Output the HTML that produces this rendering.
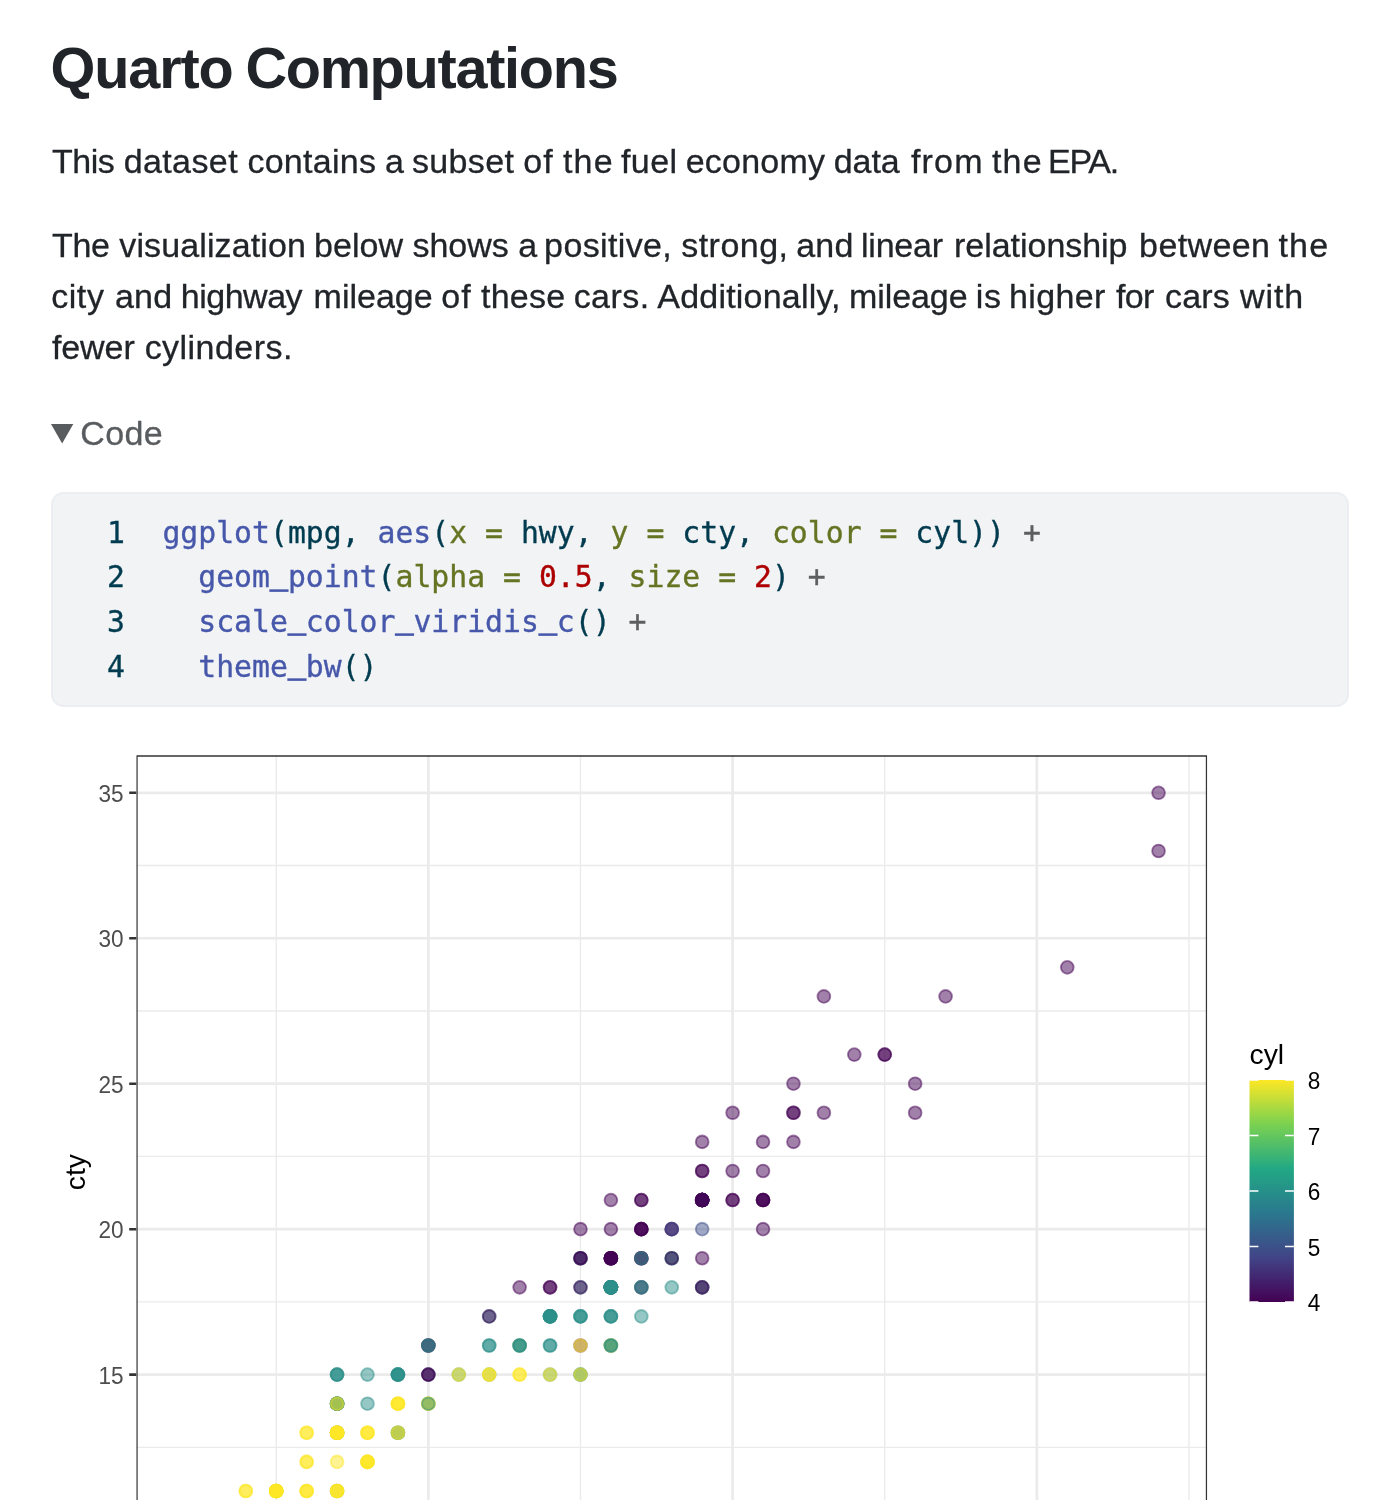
<!DOCTYPE html>
<html lang="en"><head><meta charset="utf-8"><title>Quarto Computations</title>
<style>
html,body{margin:0;padding:0;background:#fff;}
body{width:1400px;height:1500px;position:relative;overflow:hidden;font-family:"Liberation Sans",Arial,sans-serif;color:#212529;}
h1,p,.sum{margin:0;padding:0;position:absolute;white-space:pre;font-weight:400;-webkit-text-stroke:0.3px currentColor;}
h1{font-weight:700;-webkit-text-stroke:0;}
p.wl{left:0;width:1400px;height:51px;font-size:34px;line-height:51px;}
p.wl span,h1 span{position:absolute;top:0;white-space:pre;}
svg.tri{position:absolute;left:51.1px;top:424.1px;}
.src{position:absolute;left:51px;top:492px;width:1298px;height:215px;box-sizing:border-box;background:#f1f3f5;border:2px solid #eceef1;border-radius:12.5px;}
.src span.ln,.src span.cl{position:absolute;font-family:"DejaVu Sans Mono","Liberation Mono",monospace;font-size:29.75px;line-height:35px;white-space:pre;color:#003B4F;letter-spacing:0.015px;-webkit-text-stroke:0.35px currentColor;}
.src span.ln{left:54px;}
.src span.cl{left:109.4px;}
.us{position:relative;top:-3.7px;-webkit-text-stroke:1.3px currentColor;}
.fu{color:#4758AB;} .at{color:#657422;} .fl{color:#AD0000;} .sc{color:#5E5E5E;}
svg.fig{position:absolute;left:0;top:740px;}
</style></head>
<body>
<h1 style="left:0;width:1400px;height:69px;top:33.52px;font-size:57.65px;line-height:69px;letter-spacing:0px;"><span style="left:50.5px;letter-spacing:-1.15px">Quarto</span> <span style="left:245.4px;letter-spacing:-1.286px">Computations</span></h1>
<p class="wl" style="top:135.72px"><span style="left:51.97px;letter-spacing:-0.447px">This</span> <span style="left:123.67px;letter-spacing:0.398px">dataset</span> <span style="left:247.4px;letter-spacing:0.283px">contains</span> <span style="left:384.89px;letter-spacing:0.248px">a</span> <span style="left:411.97px;letter-spacing:0.336px">subset</span> <span style="left:523.15px;letter-spacing:1.2px">of</span> <span style="left:562.92px;letter-spacing:1.2px">the</span> <span style="left:620.95px;letter-spacing:0.449px">fuel</span> <span style="left:685.64px;letter-spacing:0.252px">economy</span> <span style="left:833.67px;letter-spacing:-0.025px">data</span> <span style="left:910.95px;letter-spacing:1.2px">from</span> <span style="left:991.92px;letter-spacing:1.2px">the</span> <span style="left:1047.95px;letter-spacing:-1.201px">EPA.</span></p>
<p class="wl" style="top:219.82px"><span style="left:51.97px;letter-spacing:-0.271px">The</span> <span style="left:119.33px;letter-spacing:0.11px">visualization</span> <span style="left:314.11px;letter-spacing:0.009px">below</span> <span style="left:412.47px;letter-spacing:-0.021px">shows</span> <span style="left:518.14px;letter-spacing:0.248px">a</span> <span style="left:544.12px;letter-spacing:0.362px">positive,</span> <span style="left:681.22px;letter-spacing:0.479px">strong,</span> <span style="left:796.14px;letter-spacing:0.24px">and</span> <span style="left:861.07px;letter-spacing:-0.254px">linear</span> <span style="left:954.08px;letter-spacing:-0.04px">relationship</span> <span style="left:1139.11px;letter-spacing:0.373px">between</span> <span style="left:1278.42px;letter-spacing:1.2px">the</span></p>
<p class="wl" style="top:271.32px"><span style="left:51.15px;letter-spacing:0.584px">city</span> <span style="left:114.89px;letter-spacing:0.24px">and</span> <span style="left:180.78px;letter-spacing:-0.493px">highway</span> <span style="left:313.57px;letter-spacing:-0.006px">mileage</span> <span style="left:441.15px;letter-spacing:1.2px">of</span> <span style="left:480.92px;letter-spacing:0.278px">these</span> <span style="left:573.65px;letter-spacing:0.462px">cars.</span> <span style="left:657.34px;letter-spacing:0.202px">Additionally,</span> <span style="left:849.07px;letter-spacing:-0.09px">mileage</span> <span style="left:975.83px;letter-spacing:0.722px">is</span> <span style="left:1009.03px;letter-spacing:0.358px">higher</span> <span style="left:1115.95px;letter-spacing:-0.689px">for</span> <span style="left:1164.9px;letter-spacing:0.244px">cars</span> <span style="left:1240.05px;letter-spacing:0.917px">with</span></p>
<p class="wl" style="top:322.32px"><span style="left:51.9px;letter-spacing:-0.074px">fewer</span> <span style="left:144.65px;letter-spacing:0.467px">cylinders.</span></p>
<svg class="tri" width="30" height="30" viewBox="0 0 30 30"><polygon points="0,0 22.3,0 11.15,19.4" fill="#595c5f"/></svg>
<div class="sum" style="left:80.37px;top:412.72px;font-size:34px;line-height:41px;letter-spacing:0.34px;color:#595c5f;">Code</div>
<div class="src">
<span class="ln" style="top:20.7px">1</span><span class="cl" style="top:20.7px"><span class="fu">ggplot</span>(mpg, <span class="fu">aes</span>(<span class="at">x =</span> hwy, <span class="at">y =</span> cty, <span class="at">color =</span> cyl)) <span class="sc">+</span></span>
<span class="ln" style="top:65.32px">2</span><span class="cl" style="top:65.32px">  <span class="fu">geom<span class="us">_</span>point</span>(<span class="at">alpha =</span> <span class="fl">0.5</span>, <span class="at">size =</span> <span class="fl">2</span>) <span class="sc">+</span></span>
<span class="ln" style="top:109.95px">3</span><span class="cl" style="top:109.95px">  <span class="fu">scale<span class="us">_</span>color<span class="us">_</span>viridis<span class="us">_</span>c</span>() <span class="sc">+</span></span>
<span class="ln" style="top:154.57px">4</span><span class="cl" style="top:154.57px">  <span class="fu">theme<span class="us">_</span>bw</span>()</span>
</div>
<svg class="fig" width="1400" height="760" viewBox="0 740 1400 760">
<defs><clipPath id="pc"><rect x="136.27" y="754.98" width="1070.96" height="831.97"/></clipPath>
<linearGradient id="vg" x1="0" y1="0" x2="0" y2="1"><stop offset="0%" stop-color="#FDE725"/><stop offset="20%" stop-color="#7AD151"/><stop offset="40%" stop-color="#22A884"/><stop offset="60%" stop-color="#2A788E"/><stop offset="80%" stop-color="#414487"/><stop offset="100%" stop-color="#440154"/></linearGradient></defs>
<rect x="136.27" y="754.98" width="1070.96" height="831.97" fill="#fff"/>
<g clip-path="url(#pc)">
<path d="M136.27 1447.32H1207.23M136.27 1301.88H1207.23M136.27 1156.42H1207.23M136.27 1010.97H1207.23M136.27 865.52H1207.23M276.23 754.98V1586.96M580.48 754.98V1586.96M884.73 754.98V1586.96M1188.97 754.98V1586.96" stroke="#EBEBEB" stroke-width="1.37" fill="none"/>
<path d="M136.27 1520.05H1207.23M136.27 1374.6H1207.23M136.27 1229.15H1207.23M136.27 1083.7H1207.23M136.27 938.25H1207.23M136.27 792.8H1207.23M428.35 754.98V1586.96M732.6 754.98V1586.96M1036.85 754.98V1586.96" stroke="#EBEBEB" stroke-width="2.74" fill="none"/>
<g fill-opacity="0.5" stroke-opacity="0.5" stroke-width="1.82">
<circle cx="702.17" cy="1287.33" r="6.4" fill="#440154" stroke="#440154"/>
<circle cx="702.17" cy="1200.06" r="6.4" fill="#440154" stroke="#440154"/>
<circle cx="763.03" cy="1229.15" r="6.4" fill="#440154" stroke="#440154"/>
<circle cx="732.6" cy="1200.06" r="6.4" fill="#440154" stroke="#440154"/>
<circle cx="610.9" cy="1345.51" r="6.4" fill="#2B9089" stroke="#2B9089"/>
<circle cx="610.9" cy="1287.33" r="6.4" fill="#2B9089" stroke="#2B9089"/>
<circle cx="641.33" cy="1287.33" r="6.4" fill="#2B9089" stroke="#2B9089"/>
<circle cx="610.9" cy="1287.33" r="6.4" fill="#440154" stroke="#440154"/>
<circle cx="580.48" cy="1345.51" r="6.4" fill="#440154" stroke="#440154"/>
<circle cx="671.75" cy="1229.15" r="6.4" fill="#440154" stroke="#440154"/>
<circle cx="641.33" cy="1258.24" r="6.4" fill="#440154" stroke="#440154"/>
<circle cx="580.48" cy="1374.6" r="6.4" fill="#2B9089" stroke="#2B9089"/>
<circle cx="580.48" cy="1316.42" r="6.4" fill="#2B9089" stroke="#2B9089"/>
<circle cx="580.48" cy="1316.42" r="6.4" fill="#2B9089" stroke="#2B9089"/>
<circle cx="580.48" cy="1374.6" r="6.4" fill="#2B9089" stroke="#2B9089"/>
<circle cx="550.05" cy="1374.6" r="6.4" fill="#2B9089" stroke="#2B9089"/>
<circle cx="580.48" cy="1316.42" r="6.4" fill="#2B9089" stroke="#2B9089"/>
<circle cx="519.62" cy="1345.51" r="6.4" fill="#FDE725" stroke="#FDE725"/>
<circle cx="428.35" cy="1403.69" r="6.4" fill="#FDE725" stroke="#FDE725"/>
<circle cx="276.23" cy="1490.96" r="6.4" fill="#FDE725" stroke="#FDE725"/>
<circle cx="428.35" cy="1403.69" r="6.4" fill="#FDE725" stroke="#FDE725"/>
<circle cx="337.08" cy="1432.78" r="6.4" fill="#FDE725" stroke="#FDE725"/>
<circle cx="337.08" cy="1461.87" r="6.4" fill="#FDE725" stroke="#FDE725"/>
<circle cx="610.9" cy="1345.51" r="6.4" fill="#FDE725" stroke="#FDE725"/>
<circle cx="519.62" cy="1374.6" r="6.4" fill="#FDE725" stroke="#FDE725"/>
<circle cx="610.9" cy="1345.51" r="6.4" fill="#FDE725" stroke="#FDE725"/>
<circle cx="580.48" cy="1374.6" r="6.4" fill="#FDE725" stroke="#FDE725"/>
<circle cx="550.05" cy="1374.6" r="6.4" fill="#FDE725" stroke="#FDE725"/>
<circle cx="397.93" cy="1403.69" r="6.4" fill="#FDE725" stroke="#FDE725"/>
<circle cx="245.8" cy="1490.96" r="6.4" fill="#FDE725" stroke="#FDE725"/>
<circle cx="276.23" cy="1490.96" r="6.4" fill="#FDE725" stroke="#FDE725"/>
<circle cx="337.08" cy="1403.69" r="6.4" fill="#FDE725" stroke="#FDE725"/>
<circle cx="641.33" cy="1258.24" r="6.4" fill="#440154" stroke="#440154"/>
<circle cx="732.6" cy="1170.97" r="6.4" fill="#440154" stroke="#440154"/>
<circle cx="610.9" cy="1287.33" r="6.4" fill="#2B9089" stroke="#2B9089"/>
<circle cx="702.17" cy="1287.33" r="6.4" fill="#2B9089" stroke="#2B9089"/>
<circle cx="610.9" cy="1316.42" r="6.4" fill="#2B9089" stroke="#2B9089"/>
<circle cx="550.05" cy="1287.33" r="6.4" fill="#440154" stroke="#440154"/>
<circle cx="550.05" cy="1316.42" r="6.4" fill="#2B9089" stroke="#2B9089"/>
<circle cx="489.2" cy="1345.51" r="6.4" fill="#2B9089" stroke="#2B9089"/>
<circle cx="489.2" cy="1345.51" r="6.4" fill="#2B9089" stroke="#2B9089"/>
<circle cx="550.05" cy="1316.42" r="6.4" fill="#2B9089" stroke="#2B9089"/>
<circle cx="550.05" cy="1316.42" r="6.4" fill="#2B9089" stroke="#2B9089"/>
<circle cx="337.08" cy="1490.96" r="6.4" fill="#2B9089" stroke="#2B9089"/>
<circle cx="489.2" cy="1374.6" r="6.4" fill="#2B9089" stroke="#2B9089"/>
<circle cx="458.78" cy="1374.6" r="6.4" fill="#2B9089" stroke="#2B9089"/>
<circle cx="519.62" cy="1345.51" r="6.4" fill="#2B9089" stroke="#2B9089"/>
<circle cx="519.62" cy="1345.51" r="6.4" fill="#2B9089" stroke="#2B9089"/>
<circle cx="397.93" cy="1374.6" r="6.4" fill="#2B9089" stroke="#2B9089"/>
<circle cx="367.5" cy="1403.69" r="6.4" fill="#2B9089" stroke="#2B9089"/>
<circle cx="337.08" cy="1432.78" r="6.4" fill="#2B9089" stroke="#2B9089"/>
<circle cx="337.08" cy="1403.69" r="6.4" fill="#2B9089" stroke="#2B9089"/>
<circle cx="397.93" cy="1403.69" r="6.4" fill="#FDE725" stroke="#FDE725"/>
<circle cx="397.93" cy="1403.69" r="6.4" fill="#FDE725" stroke="#FDE725"/>
<circle cx="184.95" cy="1549.14" r="6.4" fill="#FDE725" stroke="#FDE725"/>
<circle cx="337.08" cy="1490.96" r="6.4" fill="#FDE725" stroke="#FDE725"/>
<circle cx="276.23" cy="1490.96" r="6.4" fill="#FDE725" stroke="#FDE725"/>
<circle cx="337.08" cy="1432.78" r="6.4" fill="#2B9089" stroke="#2B9089"/>
<circle cx="337.08" cy="1432.78" r="6.4" fill="#FDE725" stroke="#FDE725"/>
<circle cx="184.95" cy="1549.14" r="6.4" fill="#FDE725" stroke="#FDE725"/>
<circle cx="337.08" cy="1432.78" r="6.4" fill="#FDE725" stroke="#FDE725"/>
<circle cx="306.65" cy="1490.96" r="6.4" fill="#FDE725" stroke="#FDE725"/>
<circle cx="367.5" cy="1432.78" r="6.4" fill="#FDE725" stroke="#FDE725"/>
<circle cx="276.23" cy="1490.96" r="6.4" fill="#FDE725" stroke="#FDE725"/>
<circle cx="306.65" cy="1461.87" r="6.4" fill="#FDE725" stroke="#FDE725"/>
<circle cx="184.95" cy="1549.14" r="6.4" fill="#FDE725" stroke="#FDE725"/>
<circle cx="337.08" cy="1432.78" r="6.4" fill="#FDE725" stroke="#FDE725"/>
<circle cx="337.08" cy="1432.78" r="6.4" fill="#FDE725" stroke="#FDE725"/>
<circle cx="306.65" cy="1461.87" r="6.4" fill="#FDE725" stroke="#FDE725"/>
<circle cx="184.95" cy="1549.14" r="6.4" fill="#FDE725" stroke="#FDE725"/>
<circle cx="276.23" cy="1490.96" r="6.4" fill="#FDE725" stroke="#FDE725"/>
<circle cx="306.65" cy="1490.96" r="6.4" fill="#FDE725" stroke="#FDE725"/>
<circle cx="337.08" cy="1432.78" r="6.4" fill="#FDE725" stroke="#FDE725"/>
<circle cx="276.23" cy="1490.96" r="6.4" fill="#FDE725" stroke="#FDE725"/>
<circle cx="337.08" cy="1490.96" r="6.4" fill="#FDE725" stroke="#FDE725"/>
<circle cx="337.08" cy="1490.96" r="6.4" fill="#FDE725" stroke="#FDE725"/>
<circle cx="367.5" cy="1461.87" r="6.4" fill="#FDE725" stroke="#FDE725"/>
<circle cx="337.08" cy="1403.69" r="6.4" fill="#2B9089" stroke="#2B9089"/>
<circle cx="397.93" cy="1374.6" r="6.4" fill="#2B9089" stroke="#2B9089"/>
<circle cx="337.08" cy="1403.69" r="6.4" fill="#2B9089" stroke="#2B9089"/>
<circle cx="397.93" cy="1432.78" r="6.4" fill="#2B9089" stroke="#2B9089"/>
<circle cx="397.93" cy="1432.78" r="6.4" fill="#FDE725" stroke="#FDE725"/>
<circle cx="337.08" cy="1432.78" r="6.4" fill="#FDE725" stroke="#FDE725"/>
<circle cx="337.08" cy="1403.69" r="6.4" fill="#2B9089" stroke="#2B9089"/>
<circle cx="337.08" cy="1403.69" r="6.4" fill="#2B9089" stroke="#2B9089"/>
<circle cx="306.65" cy="1432.78" r="6.4" fill="#FDE725" stroke="#FDE725"/>
<circle cx="306.65" cy="1432.78" r="6.4" fill="#FDE725" stroke="#FDE725"/>
<circle cx="337.08" cy="1432.78" r="6.4" fill="#FDE725" stroke="#FDE725"/>
<circle cx="276.23" cy="1490.96" r="6.4" fill="#FDE725" stroke="#FDE725"/>
<circle cx="337.08" cy="1432.78" r="6.4" fill="#FDE725" stroke="#FDE725"/>
<circle cx="610.9" cy="1287.33" r="6.4" fill="#2B9089" stroke="#2B9089"/>
<circle cx="580.48" cy="1287.33" r="6.4" fill="#2B9089" stroke="#2B9089"/>
<circle cx="610.9" cy="1316.42" r="6.4" fill="#2B9089" stroke="#2B9089"/>
<circle cx="550.05" cy="1345.51" r="6.4" fill="#2B9089" stroke="#2B9089"/>
<circle cx="458.78" cy="1374.6" r="6.4" fill="#FDE725" stroke="#FDE725"/>
<circle cx="489.2" cy="1374.6" r="6.4" fill="#FDE725" stroke="#FDE725"/>
<circle cx="519.62" cy="1374.6" r="6.4" fill="#FDE725" stroke="#FDE725"/>
<circle cx="489.2" cy="1374.6" r="6.4" fill="#FDE725" stroke="#FDE725"/>
<circle cx="428.35" cy="1403.69" r="6.4" fill="#FDE725" stroke="#FDE725"/>
<circle cx="823.88" cy="996.43" r="6.4" fill="#440154" stroke="#440154"/>
<circle cx="793.45" cy="1112.79" r="6.4" fill="#440154" stroke="#440154"/>
<circle cx="793.45" cy="1083.7" r="6.4" fill="#440154" stroke="#440154"/>
<circle cx="702.17" cy="1141.88" r="6.4" fill="#440154" stroke="#440154"/>
<circle cx="793.45" cy="1112.79" r="6.4" fill="#440154" stroke="#440154"/>
<circle cx="854.3" cy="1054.61" r="6.4" fill="#440154" stroke="#440154"/>
<circle cx="915.15" cy="1083.7" r="6.4" fill="#440154" stroke="#440154"/>
<circle cx="915.15" cy="1112.79" r="6.4" fill="#440154" stroke="#440154"/>
<circle cx="702.17" cy="1200.06" r="6.4" fill="#440154" stroke="#440154"/>
<circle cx="610.9" cy="1287.33" r="6.4" fill="#440154" stroke="#440154"/>
<circle cx="641.33" cy="1287.33" r="6.4" fill="#440154" stroke="#440154"/>
<circle cx="732.6" cy="1200.06" r="6.4" fill="#440154" stroke="#440154"/>
<circle cx="763.03" cy="1200.06" r="6.4" fill="#440154" stroke="#440154"/>
<circle cx="610.9" cy="1287.33" r="6.4" fill="#2B9089" stroke="#2B9089"/>
<circle cx="610.9" cy="1287.33" r="6.4" fill="#2B9089" stroke="#2B9089"/>
<circle cx="671.75" cy="1258.24" r="6.4" fill="#2B9089" stroke="#2B9089"/>
<circle cx="610.9" cy="1258.24" r="6.4" fill="#440154" stroke="#440154"/>
<circle cx="702.17" cy="1258.24" r="6.4" fill="#440154" stroke="#440154"/>
<circle cx="671.75" cy="1229.15" r="6.4" fill="#440154" stroke="#440154"/>
<circle cx="641.33" cy="1229.15" r="6.4" fill="#440154" stroke="#440154"/>
<circle cx="550.05" cy="1316.42" r="6.4" fill="#2B9089" stroke="#2B9089"/>
<circle cx="550.05" cy="1345.51" r="6.4" fill="#2B9089" stroke="#2B9089"/>
<circle cx="550.05" cy="1316.42" r="6.4" fill="#2B9089" stroke="#2B9089"/>
<circle cx="489.2" cy="1316.42" r="6.4" fill="#2B9089" stroke="#2B9089"/>
<circle cx="397.93" cy="1374.6" r="6.4" fill="#2B9089" stroke="#2B9089"/>
<circle cx="428.35" cy="1374.6" r="6.4" fill="#2B9089" stroke="#2B9089"/>
<circle cx="337.08" cy="1403.69" r="6.4" fill="#FDE725" stroke="#FDE725"/>
<circle cx="184.95" cy="1549.14" r="6.4" fill="#FDE725" stroke="#FDE725"/>
<circle cx="397.93" cy="1403.69" r="6.4" fill="#FDE725" stroke="#FDE725"/>
<circle cx="367.5" cy="1432.78" r="6.4" fill="#FDE725" stroke="#FDE725"/>
<circle cx="245.8" cy="1490.96" r="6.4" fill="#FDE725" stroke="#FDE725"/>
<circle cx="276.23" cy="1490.96" r="6.4" fill="#FDE725" stroke="#FDE725"/>
<circle cx="367.5" cy="1461.87" r="6.4" fill="#FDE725" stroke="#FDE725"/>
<circle cx="367.5" cy="1461.87" r="6.4" fill="#FDE725" stroke="#FDE725"/>
<circle cx="276.23" cy="1490.96" r="6.4" fill="#FDE725" stroke="#FDE725"/>
<circle cx="337.08" cy="1490.96" r="6.4" fill="#FDE725" stroke="#FDE725"/>
<circle cx="306.65" cy="1490.96" r="6.4" fill="#FDE725" stroke="#FDE725"/>
<circle cx="367.5" cy="1461.87" r="6.4" fill="#FDE725" stroke="#FDE725"/>
<circle cx="337.08" cy="1403.69" r="6.4" fill="#2B9089" stroke="#2B9089"/>
<circle cx="397.93" cy="1432.78" r="6.4" fill="#2B9089" stroke="#2B9089"/>
<circle cx="397.93" cy="1432.78" r="6.4" fill="#FDE725" stroke="#FDE725"/>
<circle cx="337.08" cy="1432.78" r="6.4" fill="#FDE725" stroke="#FDE725"/>
<circle cx="702.17" cy="1200.06" r="6.4" fill="#440154" stroke="#440154"/>
<circle cx="641.33" cy="1258.24" r="6.4" fill="#440154" stroke="#440154"/>
<circle cx="763.03" cy="1141.88" r="6.4" fill="#440154" stroke="#440154"/>
<circle cx="793.45" cy="1141.88" r="6.4" fill="#440154" stroke="#440154"/>
<circle cx="641.33" cy="1258.24" r="6.4" fill="#2B9089" stroke="#2B9089"/>
<circle cx="610.9" cy="1258.24" r="6.4" fill="#2B9089" stroke="#2B9089"/>
<circle cx="610.9" cy="1287.33" r="6.4" fill="#2B9089" stroke="#2B9089"/>
<circle cx="580.48" cy="1258.24" r="6.4" fill="#2B9089" stroke="#2B9089"/>
<circle cx="580.48" cy="1258.24" r="6.4" fill="#2B9089" stroke="#2B9089"/>
<circle cx="337.08" cy="1403.69" r="6.4" fill="#2B9089" stroke="#2B9089"/>
<circle cx="337.08" cy="1374.6" r="6.4" fill="#2B9089" stroke="#2B9089"/>
<circle cx="428.35" cy="1403.69" r="6.4" fill="#2B9089" stroke="#2B9089"/>
<circle cx="367.5" cy="1461.87" r="6.4" fill="#FDE725" stroke="#FDE725"/>
<circle cx="610.9" cy="1287.33" r="6.4" fill="#2B9089" stroke="#2B9089"/>
<circle cx="610.9" cy="1345.51" r="6.4" fill="#2B9089" stroke="#2B9089"/>
<circle cx="641.33" cy="1316.42" r="6.4" fill="#2B9089" stroke="#2B9089"/>
<circle cx="671.75" cy="1287.33" r="6.4" fill="#2B9089" stroke="#2B9089"/>
<circle cx="580.48" cy="1345.51" r="6.4" fill="#FDE725" stroke="#FDE725"/>
<circle cx="580.48" cy="1287.33" r="6.4" fill="#440154" stroke="#440154"/>
<circle cx="550.05" cy="1287.33" r="6.4" fill="#440154" stroke="#440154"/>
<circle cx="641.33" cy="1229.15" r="6.4" fill="#440154" stroke="#440154"/>
<circle cx="580.48" cy="1258.24" r="6.4" fill="#440154" stroke="#440154"/>
<circle cx="610.9" cy="1229.15" r="6.4" fill="#440154" stroke="#440154"/>
<circle cx="519.62" cy="1287.33" r="6.4" fill="#440154" stroke="#440154"/>
<circle cx="610.9" cy="1200.06" r="6.4" fill="#440154" stroke="#440154"/>
<circle cx="610.9" cy="1258.24" r="6.4" fill="#440154" stroke="#440154"/>
<circle cx="610.9" cy="1258.24" r="6.4" fill="#440154" stroke="#440154"/>
<circle cx="610.9" cy="1258.24" r="6.4" fill="#440154" stroke="#440154"/>
<circle cx="580.48" cy="1229.15" r="6.4" fill="#440154" stroke="#440154"/>
<circle cx="641.33" cy="1229.15" r="6.4" fill="#440154" stroke="#440154"/>
<circle cx="580.48" cy="1258.24" r="6.4" fill="#440154" stroke="#440154"/>
<circle cx="641.33" cy="1229.15" r="6.4" fill="#440154" stroke="#440154"/>
<circle cx="428.35" cy="1374.6" r="6.4" fill="#440154" stroke="#440154"/>
<circle cx="428.35" cy="1345.51" r="6.4" fill="#440154" stroke="#440154"/>
<circle cx="397.93" cy="1374.6" r="6.4" fill="#2B9089" stroke="#2B9089"/>
<circle cx="337.08" cy="1374.6" r="6.4" fill="#2B9089" stroke="#2B9089"/>
<circle cx="428.35" cy="1345.51" r="6.4" fill="#2B9089" stroke="#2B9089"/>
<circle cx="337.08" cy="1403.69" r="6.4" fill="#FDE725" stroke="#FDE725"/>
<circle cx="702.17" cy="1200.06" r="6.4" fill="#440154" stroke="#440154"/>
<circle cx="641.33" cy="1200.06" r="6.4" fill="#440154" stroke="#440154"/>
<circle cx="763.03" cy="1200.06" r="6.4" fill="#440154" stroke="#440154"/>
<circle cx="763.03" cy="1200.06" r="6.4" fill="#440154" stroke="#440154"/>
<circle cx="610.9" cy="1287.33" r="6.4" fill="#2B9089" stroke="#2B9089"/>
<circle cx="610.9" cy="1287.33" r="6.4" fill="#2B9089" stroke="#2B9089"/>
<circle cx="671.75" cy="1258.24" r="6.4" fill="#2B9089" stroke="#2B9089"/>
<circle cx="641.33" cy="1200.06" r="6.4" fill="#440154" stroke="#440154"/>
<circle cx="702.17" cy="1200.06" r="6.4" fill="#440154" stroke="#440154"/>
<circle cx="763.03" cy="1200.06" r="6.4" fill="#440154" stroke="#440154"/>
<circle cx="763.03" cy="1170.97" r="6.4" fill="#440154" stroke="#440154"/>
<circle cx="610.9" cy="1287.33" r="6.4" fill="#2B9089" stroke="#2B9089"/>
<circle cx="610.9" cy="1287.33" r="6.4" fill="#2B9089" stroke="#2B9089"/>
<circle cx="641.33" cy="1287.33" r="6.4" fill="#2B9089" stroke="#2B9089"/>
<circle cx="732.6" cy="1112.79" r="6.4" fill="#440154" stroke="#440154"/>
<circle cx="823.88" cy="1112.79" r="6.4" fill="#440154" stroke="#440154"/>
<circle cx="884.73" cy="1054.61" r="6.4" fill="#440154" stroke="#440154"/>
<circle cx="945.58" cy="996.43" r="6.4" fill="#440154" stroke="#440154"/>
<circle cx="884.73" cy="1054.61" r="6.4" fill="#440154" stroke="#440154"/>
<circle cx="276.23" cy="1490.96" r="6.4" fill="#FDE725" stroke="#FDE725"/>
<circle cx="367.5" cy="1432.78" r="6.4" fill="#FDE725" stroke="#FDE725"/>
<circle cx="428.35" cy="1374.6" r="6.4" fill="#440154" stroke="#440154"/>
<circle cx="428.35" cy="1345.51" r="6.4" fill="#440154" stroke="#440154"/>
<circle cx="489.2" cy="1316.42" r="6.4" fill="#440154" stroke="#440154"/>
<circle cx="337.08" cy="1374.6" r="6.4" fill="#2B9089" stroke="#2B9089"/>
<circle cx="397.93" cy="1374.6" r="6.4" fill="#2B9089" stroke="#2B9089"/>
<circle cx="367.5" cy="1374.6" r="6.4" fill="#2B9089" stroke="#2B9089"/>
<circle cx="428.35" cy="1345.51" r="6.4" fill="#2B9089" stroke="#2B9089"/>
<circle cx="702.17" cy="1200.06" r="6.4" fill="#440154" stroke="#440154"/>
<circle cx="610.9" cy="1258.24" r="6.4" fill="#440154" stroke="#440154"/>
<circle cx="702.17" cy="1200.06" r="6.4" fill="#440154" stroke="#440154"/>
<circle cx="702.17" cy="1170.97" r="6.4" fill="#440154" stroke="#440154"/>
<circle cx="550.05" cy="1316.42" r="6.4" fill="#2B9089" stroke="#2B9089"/>
<circle cx="1158.55" cy="850.98" r="6.4" fill="#440154" stroke="#440154"/>
<circle cx="702.17" cy="1200.06" r="6.4" fill="#440154" stroke="#440154"/>
<circle cx="610.9" cy="1258.24" r="6.4" fill="#440154" stroke="#440154"/>
<circle cx="702.17" cy="1170.97" r="6.4" fill="#440154" stroke="#440154"/>
<circle cx="702.17" cy="1200.06" r="6.4" fill="#440154" stroke="#440154"/>
<circle cx="702.17" cy="1200.06" r="6.4" fill="#3F5189" stroke="#3F5189"/>
<circle cx="702.17" cy="1200.06" r="6.4" fill="#3F5189" stroke="#3F5189"/>
<circle cx="519.62" cy="1345.51" r="6.4" fill="#2B9089" stroke="#2B9089"/>
<circle cx="550.05" cy="1316.42" r="6.4" fill="#2B9089" stroke="#2B9089"/>
<circle cx="1158.55" cy="792.8" r="6.4" fill="#440154" stroke="#440154"/>
<circle cx="1067.28" cy="967.34" r="6.4" fill="#440154" stroke="#440154"/>
<circle cx="702.17" cy="1200.06" r="6.4" fill="#440154" stroke="#440154"/>
<circle cx="610.9" cy="1258.24" r="6.4" fill="#440154" stroke="#440154"/>
<circle cx="671.75" cy="1229.15" r="6.4" fill="#3F5189" stroke="#3F5189"/>
<circle cx="702.17" cy="1229.15" r="6.4" fill="#3F5189" stroke="#3F5189"/>
<circle cx="702.17" cy="1200.06" r="6.4" fill="#440154" stroke="#440154"/>
<circle cx="702.17" cy="1287.33" r="6.4" fill="#440154" stroke="#440154"/>
<circle cx="671.75" cy="1258.24" r="6.4" fill="#440154" stroke="#440154"/>
<circle cx="702.17" cy="1200.06" r="6.4" fill="#440154" stroke="#440154"/>
<circle cx="610.9" cy="1345.51" r="6.4" fill="#2B9089" stroke="#2B9089"/>
<circle cx="610.9" cy="1287.33" r="6.4" fill="#2B9089" stroke="#2B9089"/>
<circle cx="610.9" cy="1316.42" r="6.4" fill="#2B9089" stroke="#2B9089"/>
</g>
<path d="M136.97 1510V756H1206.53V1510" fill="none" stroke="#333333" stroke-width="1.4" stroke-linejoin="miter"/>
</g>
<path d="M129.2 1374.6H136.27M129.2 1229.15H136.27M129.2 1083.7H136.27M129.2 938.25H136.27M129.2 792.8H136.27" stroke="#333333" stroke-width="2.55" fill="none"/>
<g font-family="'Liberation Sans',Arial,sans-serif" font-size="22.6" fill="#4D4D4D" text-anchor="end">
<text transform="translate(123.54 1383.8) scale(1 1.06)">15</text>
<text transform="translate(123.54 1238.35) scale(1 1.06)">20</text>
<text transform="translate(123.54 1092.9) scale(1 1.06)">25</text>
<text transform="translate(123.54 947.45) scale(1 1.06)">30</text>
<text transform="translate(123.54 802) scale(1 1.06)">35</text>
</g>
<g font-family="'Liberation Sans',Arial,sans-serif" fill="#000">
<text font-size="28.3" text-anchor="middle" transform="translate(85.2 1172.17) rotate(-90)">cty</text>
<text font-size="28.3" x="1249.5" y="1064">cyl</text>
<rect x="1249.5" y="1080.0" width="44.4" height="222" fill="url(#vg)"/>
<path d="M1249.5 1302h8.88M1285.02 1302h8.88M1249.5 1246.5h8.88M1285.02 1246.5h8.88M1249.5 1191h8.88M1285.02 1191h8.88M1249.5 1135.5h8.88M1285.02 1135.5h8.88M1249.5 1080h8.88M1285.02 1080h8.88" stroke="#fff" stroke-width="1.4" fill="none"/>
<text font-size="22.6" transform="translate(1307.8 1311.25) scale(1 1.06)">4</text>
<text font-size="22.6" transform="translate(1307.8 1255.75) scale(1 1.06)">5</text>
<text font-size="22.6" transform="translate(1307.8 1200.25) scale(1 1.06)">6</text>
<text font-size="22.6" transform="translate(1307.8 1144.75) scale(1 1.06)">7</text>
<text font-size="22.6" transform="translate(1307.8 1089.25) scale(1 1.06)">8</text>
</g></svg>
</body></html>
